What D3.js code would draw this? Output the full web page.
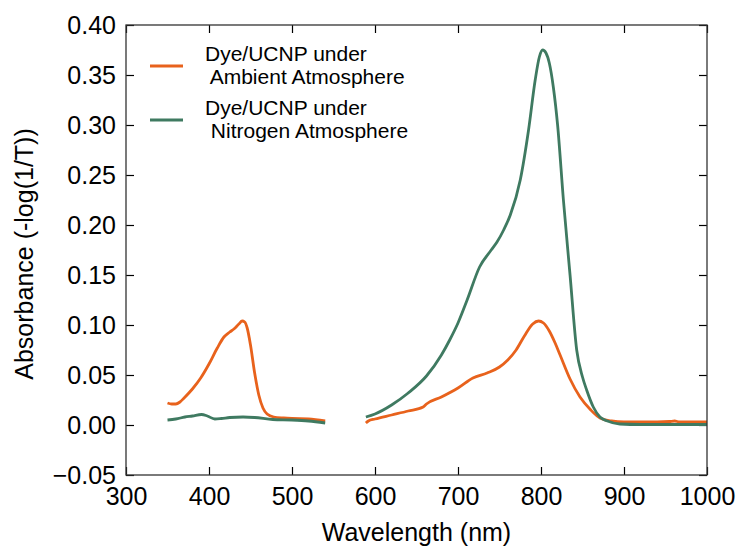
<!DOCTYPE html>
<html><head><meta charset="utf-8">
<script src="https://cdn.jsdelivr.net/npm/d3@7"></script>
<style>body{margin:0;background:#fff}svg{display:block}text{font-family:"Liberation Sans",Arial,Helvetica,sans-serif}</style>
</head><body>
<svg id="c" width="741" height="548"></svg>
<script>
// Ambient atmosphere (orange); null marks the gap between measured ranges
const ambientWavelength = [350,355,360,365,370,380,390,400,410,418,425,430,436,440,443,446,450,455,460,465,470,478,490,500,520,540,
  null,
  589,592,600,620,640,658,662,680,700,718,735,750,760,770,780,790,797,803,810,817,823,835,847,860,871,885,900,920,940,955,961,967,1000];
const ambientAbs = [0.022,0.021,0.021,0.023,0.027,0.036,0.047,0.061,0.077,0.088,0.093,0.096,0.101,0.104,0.103,0.097,0.080,0.052,0.030,0.017,0.011,0.008,0.007,0.0065,0.006,0.004,
  null,
  0.002,0.004,0.006,0.010,0.014,0.018,0.021,0.028,0.037,0.047,0.052,0.058,0.065,0.075,0.089,0.101,0.104,0.102,0.094,0.082,0.070,0.046,0.028,0.015,0.007,0.004,0.003,0.003,0.003,0.0035,0.004,0.003,0.003];
// Nitrogen atmosphere (green)
const nitrogenWavelength = [350,360,371,380,391,398,407,415,425,441,455,477,500,520,540,
  null,
  589,600,620,640,662,680,690,700,711,726,740,747,755,763,775,785,793,798,802,806,810,815,820,827,835,843,850,855,863,871,880,895,920,1000];
const nitrogenAbs = [0.005,0.006,0.008,0.009,0.0105,0.009,0.006,0.0065,0.0075,0.008,0.0075,0.0055,0.005,0.004,0.002,
  null,
  0.008,0.011,0.020,0.032,0.049,0.070,0.085,0.102,0.125,0.158,0.175,0.183,0.195,0.210,0.245,0.295,0.345,0.368,0.375,0.372,0.362,0.337,0.300,0.225,0.150,0.075,0.048,0.035,0.018,0.008,0.004,0.001,0.0005,0.0005];

const seriesNames = ["Dye/UCNP under\n Ambient Atmosphere", "Dye/UCNP under\n Nitrogen Atmosphere"];
const seriesColors = ["#e8621c", "#3f7a61"];
const xTicks = [300,400,500,600,700,800,900,1000];
const yTicks = [-0.05,0,0.05,0.10,0.15,0.20,0.25,0.30,0.35,0.40];

const svg = d3.select("#c");
const L = 126, R = 707, T = 25, B = 475;
const x = d3.scaleLinear().domain([300,1000]).range([L,R]);
const y = d3.scaleLinear().domain([-0.05,0.40]).range([B,T]);

const fmtY = v => (v < 0 ? "\u2212" : "") + Math.abs(v).toFixed(2);

const g = svg.append("g");
const axB = g.append("g").attr("transform",`translate(0,${B})`).call(d3.axisBottom(x).tickValues(xTicks).tickSize(-8).tickPadding(12).tickFormat(d3.format("d")));
const axT = g.append("g").attr("transform",`translate(0,${T})`).call(d3.axisTop(x).tickValues(xTicks).tickSize(-8).tickFormat(""));
const axL = g.append("g").attr("transform",`translate(${L},0)`).call(d3.axisLeft(y).tickValues(yTicks).tickSize(-8).tickPadding(10).tickFormat(fmtY));
const axR = g.append("g").attr("transform",`translate(${R},0)`).call(d3.axisRight(y).tickValues(yTicks).tickSize(-8).tickFormat(""));
[axB,axT,axL,axR].forEach(a=>{
  a.select(".domain").remove();
  a.selectAll(".tick line").attr("stroke","#000").attr("stroke-width",1.2);
  a.selectAll("text").attr("font-size",25).attr("fill","#000").attr("font-family",'"Liberation Sans",Arial,sans-serif');
});
axB.selectAll("text").attr("dy","0.71em");

const mk = (wl, ab) => wl.map((w,i)=>({w, a: ab[i]}));
const line = d3.line().defined(d=>d.w!=null && d.a!=null).x(d=>x(d.w)).y(d=>y(d.a)).curve(d3.curveMonotoneX);
svg.append("clipPath").attr("id","cp").append("rect").attr("x",L).attr("y",T).attr("width",R-L).attr("height",B-T);
const series = [mk(ambientWavelength, ambientAbs), mk(nitrogenWavelength, nitrogenAbs)];
series.forEach((s,i)=>{
  svg.append("path").datum(s).attr("d",line).attr("fill","none")
    .attr("stroke",seriesColors[i]).attr("stroke-width",2.8).attr("stroke-linejoin","round").attr("clip-path","url(#cp)");
});

svg.append("rect").attr("x",L).attr("y",T).attr("width",R-L).attr("height",B-T)
  .attr("fill","none").attr("stroke","#333").attr("stroke-width",1.3);

// legend
const legY = [66, 120];
const legBase = [[60.5, 84], [115, 137.5]];
seriesNames.forEach((nm,i)=>{
  svg.append("line").attr("x1",150).attr("x2",183).attr("y1",legY[i]).attr("y2",legY[i])
    .attr("stroke",seriesColors[i]).attr("stroke-width",2.8);
  const parts = nm.split("\n");
  const t = svg.append("text").attr("font-size",21).attr("fill","#000").style("white-space","pre");
  t.append("tspan").attr("x",205).attr("y",legBase[i][0]).text(parts[0]);
  t.append("tspan").attr("x",205).attr("y",legBase[i][1]).text(parts[1]);
});

svg.append("text").attr("x",(L+R)/2).attr("y",541).attr("text-anchor","middle").attr("font-size",25).attr("fill","#000").text("Wavelength (nm)");
svg.append("text").attr("transform",`translate(33,${(T+B)/2 + 4}) rotate(-90)`).attr("text-anchor","middle").attr("font-size",25).attr("fill","#000").text("Absorbance (-log(1/T))");
</script>
</body></html>
